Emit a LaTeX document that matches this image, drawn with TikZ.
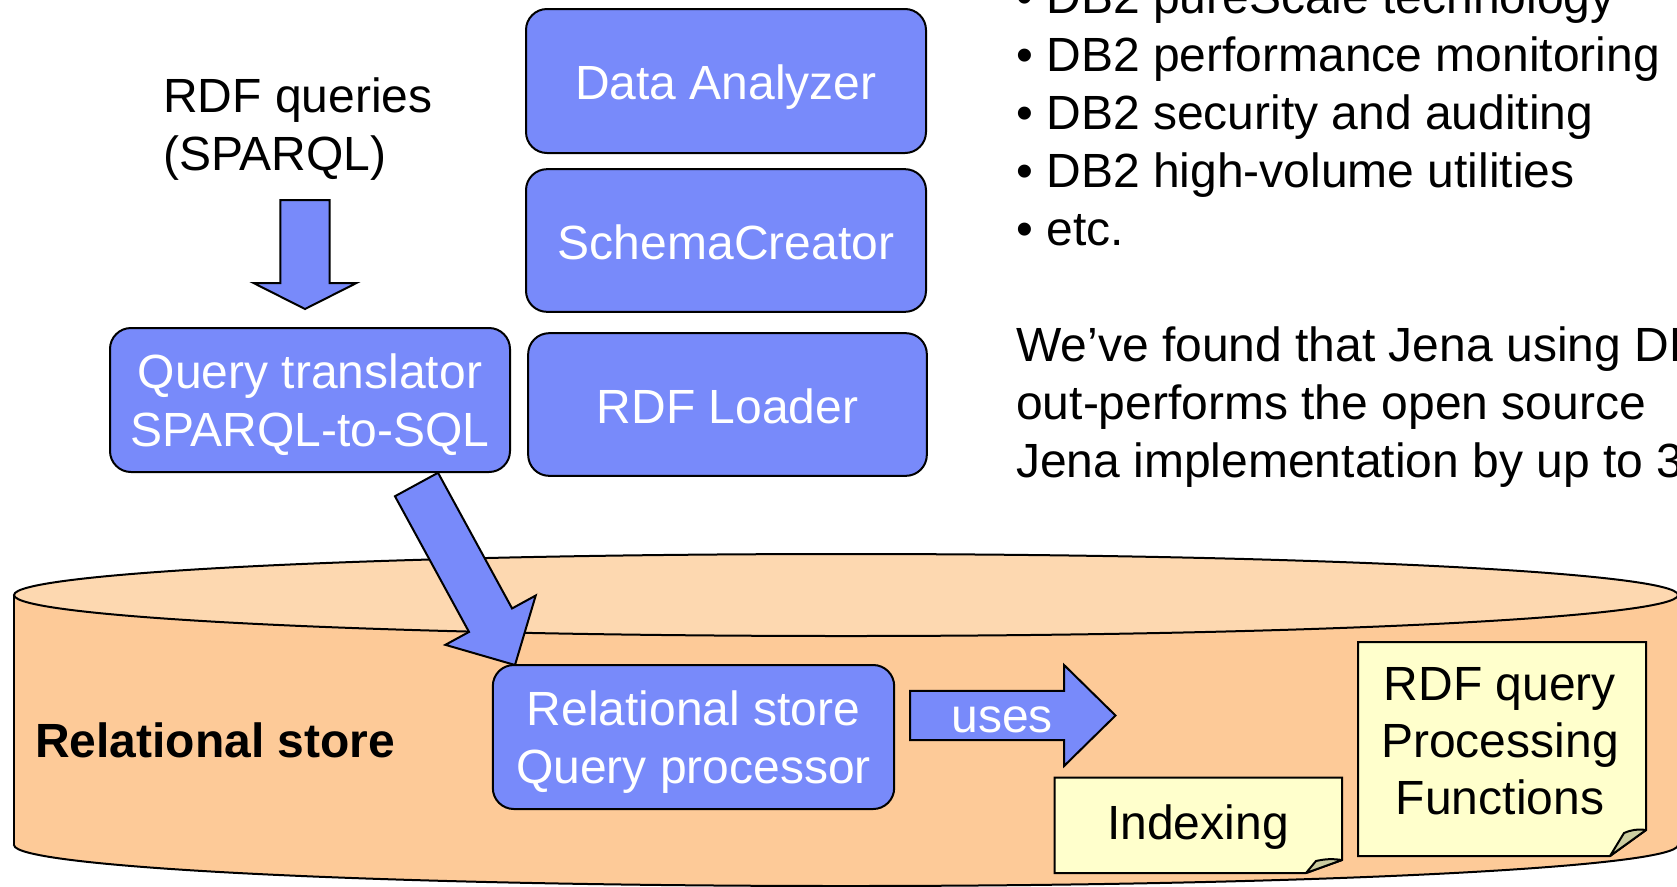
\documentclass[tikz,border=0pt]{standalone}
\usepackage{fontspec}
\setmainfont{Liberation Sans}
\usetikzlibrary{calc}

\definecolor{boxblue}{RGB}{120,138,250}
\definecolor{canbody}{RGB}{253,202,152}
\definecolor{cantop}{RGB}{253,216,176}
\definecolor{notefill}{RGB}{255,255,204}
\definecolor{notefold}{RGB}{204,204,160}

\tikzset{
  outline/.style={draw=black, line width=1.5pt},
  bigtext/.style={font=\fontsize{36}{43.35}\selectfont},
  bluebox/.style={outline, fill=boxblue, rounded corners=15.75pt, text=white,
    bigtext, align=center, inner sep=0pt},
  oneline/.style={bluebox, text height=35.4pt, text depth=7.6pt},
  twolines/.style={bluebox, text height=77.6pt, text depth=7.6pt},
  blockarrow/.style={outline, fill=boxblue, line join=miter},
  note/.style={outline, fill=notefill, line join=miter},
  fold/.style={outline, fill=notefold, line join=round},
  plain/.style={bigtext, inner sep=0pt, align=left},
}

% block arrow from #1 to tip #2: shaft half width, head half width, head length
\newcommand\drawblockarrow[5]{%
  \coordinate (hb) at ($(#2)!#5!(#1)$);
  \draw[blockarrow] ($(#1)!#3!90:(#2)$) -- ($(hb)!#3!-90:(#1)$)
    -- ($(hb)!#4!-90:(#1)$) -- (#2) -- ($(hb)!#4!90:(#1)$)
    -- ($(hb)!#3!90:(#1)$) -- ($(#1)!#3!-90:(#2)$) -- cycle;
}

\begin{document}
\begin{tikzpicture}[x=0.75pt,y=-0.75pt]
\useasboundingbox (0,0) rectangle (1677,886);
\clip (0,0) rectangle (1677,886);

% the relational store drum
\fill[canbody] (846,845) ellipse [x radius=832, y radius=41];
\draw[line width=1.5pt] (846,845) ellipse [x radius=832, y radius=41];
\fill[canbody] (14,595) rectangle (1678,845);
\draw[line width=1.5pt] (14,595) -- (14,845) (1678,595) -- (1678,845);
\filldraw[fill=cantop, line width=1.5pt] (846,595) ellipse [x radius=832, y radius=41];

% tool boxes
\node[oneline, minimum width=300pt, minimum height=108pt] (analyzer) at (726,81) {Data Analyzer};
\node[oneline, minimum width=300pt, minimum height=107pt] (schema) at (726,240.5) {SchemaCreator};
\node[oneline, minimum width=299pt, minimum height=107pt] (loader) at (727.5,404.5) {RDF Loader};

% query input
\node[plain, anchor=base west] (queries) at (163,170.3) {RDF queries\\(SPARQL)};
\coordinate (qin) at (305,200);
\coordinate (qtip) at (305,309);
\drawblockarrow{qin}{qtip}{18.4pt}{38.6pt}{19.5pt}

% translator to relational query processor
\coordinate (tout) at (416.5,484.5);
\coordinate (ptip) at (515,665);
\drawblockarrow{tout}{ptip}{18.4pt}{38.6pt}{38.3pt}

\node[twolines, minimum width=300pt, minimum height=108pt] (translator) at (310,400) {Query translator\\SPARQL-to-SQL};
\node[twolines, minimum width=301pt, minimum height=108pt] (processor) at (693.5,737) {Relational store\\Query processor};

% uses arrow
\coordinate (uin) at (910,715.5);
\coordinate (utip) at (1115.5,715.5);
\drawblockarrow{uin}{utip}{18.4pt}{37.9pt}{38.6pt}
\node[bigtext, text=white, inner sep=0pt, anchor=base] (uses) at (1002,732.7) {uses};

% store label
\node[font=\fontsize{36}{43.35}\selectfont\bfseries, inner sep=0pt, anchor=west] (store) at (35,740) {Relational store};

% notes with folded corners
\draw[note] (1054.5,777.5) -- (1342,777.5) -- (1342,860) -- (1306,873) -- (1054.5,873) -- cycle;
\draw[fold] (1306,873) -- (1316,861) to[bend left=10] (1342,860) -- cycle;
\node[bigtext, inner sep=0pt, anchor=base] (indexing) at (1198,839.5) {Indexing};

\draw[note] (1358,642) -- (1646,642) -- (1646,830) -- (1610,856) -- (1358,856) -- cycle;
\draw[fold] (1610,856) -- (1624,833) to[bend left=15] (1646,830) -- cycle;
\node[font=\fontsize{36}{42.5}\selectfont, inner sep=0pt, align=center, anchor=base] (functions) at (1500,814) {RDF query\\Processing\\Functions};

% text on the right
\node[plain, anchor=base west] (bullets) at (1016,245.1) {• DB2 pureScale technology\\• DB2 performance monitoring\\• DB2 security and auditing\\• DB2 high-volume utilities\\• etc.};
\node[plain, anchor=base west] (finding) at (1016,477.1) {We’ve found that Jena using DB2\\out-performs the open source\\Jena implementation by up to 3x};
\end{tikzpicture}
\end{document}
